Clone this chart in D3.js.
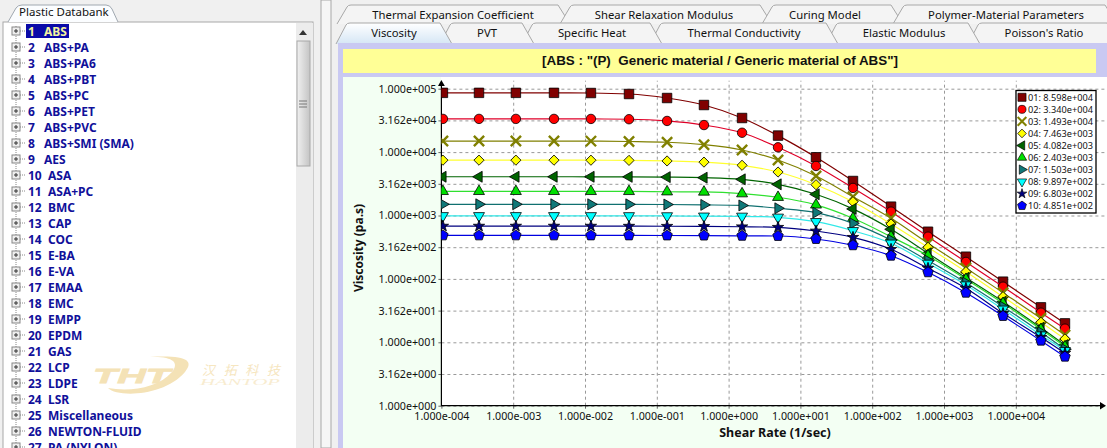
<!DOCTYPE html>
<html>
<head>
<meta charset="utf-8">
<script src="https://d3js.org/d3.v7.min.js"></script>
<style>
  html, body { margin: 0; padding: 0; background: #f0f0f0; overflow: hidden; }
  svg { display: block; }
  text { font-family: "Noto Sans", sans-serif; }
  .tab { font-size: 11.3px; fill: #111; text-anchor: middle; }
  .tree { font-size: 12px; font-weight: bold; fill: #10109a; }
  .tick text { font-family: "Noto Sans", sans-serif; font-size: 10.7px; fill: #111; }
  .grid line { stroke: #999; stroke-dasharray: 3 3; }
  .grid path { display: none; }
  .legend-text { font-size: 9.5px; fill: #111; }
</style>
</head>
<body>
<script>
// material list on the left
var materials = ["ABS", "ABS+PA", "ABS+PA6", "ABS+PBT", "ABS+PC", "ABS+PET", "ABS+PVC", "ABS+SMI (SMA)", "AES",
    "ASA", "ASA+PC", "BMC", "CAP", "COC", "E-BA", "E-VA", "EMAA", "EMC", "EMPP", "EPDM", "GAS", "LCP", "LDPE",
    "LSR", "Miscellaneous", "NEWTON-FLUID", "PA (NYLON)"];

var topTabs = ["Thermal Expansion Coefficient", "Shear Relaxation Modulus", "Curing Model", "Polymer-Material Parameters"];
var bottomTabs = ["Viscosity", "PVT", "Specific Heat", "Thermal Conductivity", "Elastic Modulus", "Poisson's Ratio"];

var chartTitle = '[ABS : "(P)  Generic material / Generic material of ABS"]';

// shear rate (1/sec) shared by all curves
var shearRate = [1.05e-4, 3.34e-4, 1.09e-3, 3.70e-3, 1.21e-2, 4.10e-2, 0.139, 0.454, 1.54, 4.88, 16.5, 54, 183, 599, 2020, 6640, 22400, 48400];

// viscosity (pa.s), one array per curve
var s01 = [85980, 85980, 85980, 85980, 85500, 82500, 71300, 55300, 34500, 18200, 8280, 3500, 1380, 555, 224, 90.4, 35.6, 19.9];
var s02 = [33400, 33400, 33400, 33400, 33350, 33000, 31000, 26700, 20200, 11900, 6040, 2720, 1150, 463, 185, 75.3, 29.3, 16.4];
var s03 = [14930, 14930, 14930, 14930, 14900, 14700, 14300, 13100, 10800, 7500, 4200, 1980, 904, 365, 149, 60.5, 23.9, 13.0];
var s04 = [7463, 7463, 7463, 7463, 7450, 7400, 7250, 6950, 6190, 4850, 3060, 1650, 735, 315, 130, 52.4, 20.7, 11.3];
var s05 = [4082, 4082, 4082, 4082, 4080, 4070, 4030, 3950, 3720, 3100, 2160, 1270, 606, 254, 104, 43.7, 17.0, 9.06];
var s06 = [2403, 2403, 2403, 2403, 2402, 2400, 2370, 2350, 2210, 1940, 1470, 904, 463, 232, 98.6, 41.2, 16.0, 8.53];
var s07 = [1503, 1503, 1503, 1503, 1502, 1500, 1490, 1470, 1440, 1300, 1110, 753, 411, 194, 87.1, 36.5, 14.4, 7.76];
var s08 = [989.7, 989.7, 989.7, 989.7, 989, 988, 985, 975, 971, 937, 798, 575, 365, 176, 80.1, 33.2, 13.0, 7.37];
var s09 = [680.3, 680.3, 680.3, 680.3, 680, 679, 677, 672, 665, 652, 570, 453, 293, 147, 71.1, 28.6, 12.0, 6.71];
var s10 = [485.1, 485.1, 485.1, 485.1, 485, 485, 484, 482, 478, 475, 426, 339, 232, 127, 60.5, 26.0, 10.6, 5.93];
var curves = [s01, s02, s03, s04, s05, s06, s07, s08, s09, s10];

var legendLabels = ["01: 8.598e+004", "02: 3.340e+004", "03: 1.493e+004", "04: 7.463e+003", "05: 4.082e+003",
    "06: 2.403e+003", "07: 1.503e+003", "08: 9.897e+002", "09: 6.803e+002", "10: 4.851e+002"];

var lineColors = ["#800000", "#e00028", "#808000", "#ffff30", "#006400", "#30e030", "#107070", "#30e8e8", "#000080", "#0000e0"];
var markColors = ["#800000", "#ff0000", "#808000", "#ffff00", "#006400", "#00e000", "#107878", "#00ffff", "#000080", "#0000ff"];

var xTicks = [1e-4, 1e-3, 1e-2, 1e-1, 1, 10, 100, 1e3, 1e4];
var yTicks = [1e5, 3.162e4, 1e4, 3.162e3, 1e3, 3.162e2, 1e2, 3.162e1, 10, 3.162, 1];

var svg = d3.select("body").append("svg").attr("width", 1107).attr("height", 448);
var defs = svg.append("defs");

var tabGrad = defs.append("linearGradient").attr("id", "activeTab").attr("x1", 0).attr("x2", 0).attr("y1", 0).attr("y2", 1);
tabGrad.append("stop").attr("offset", 0).attr("stop-color", "#ffffff");
tabGrad.append("stop").attr("offset", 1).attr("stop-color", "#d5e6f5");

var sideGrad = defs.append("linearGradient").attr("id", "thumb");
sideGrad.append("stop").attr("offset", 0).attr("stop-color", "#f0f0f0");
sideGrad.append("stop").attr("offset", 1).attr("stop-color", "#c4c4c4");

// ---- left panel ----
var left = svg.append("g");
left.append("rect").attr("x", 3).attr("y", 22).attr("width", 310).attr("height", 430)
    .attr("fill", "#fff").attr("stroke", "#a8a8a8");
left.append("path").attr("d", "M8,22 L16,8 Q18,5 22,5 L106,5 Q110,5 112,9 L118,22")
    .attr("fill", "#fbfdff").attr("stroke", "#a0a8b0");
left.append("text").attr("x", 19).attr("y", 16).attr("font-size", 11.5).attr("fill", "#111").text("Plastic Databank");

// scrollbar
left.append("rect").attr("x", 296).attr("y", 23).attr("width", 17).attr("height", 425).attr("fill", "#ececec");
left.append("path").attr("d", "M299,35 L303,30 L307,35 Z").attr("fill", "#333");
left.append("rect").attr("x", 297).attr("y", 41).attr("width", 13).attr("height", 125)
    .attr("fill", "url(#thumb)").attr("stroke", "#a8a8a8");
[-3, 0, 3].forEach(function(d) {
    left.append("line").attr("x1", 299).attr("x2", 307).attr("y1", 104 + d).attr("y2", 104 + d).attr("stroke", "#777");
});
left.append("rect").attr("x", 321).attr("y", 0).attr("width", 10).attr("height", 448).attr("fill", "#f6f6f6").attr("stroke", "#a8a8a8");

left.append("line").attr("x1", 16).attr("x2", 16).attr("y1", 26).attr("y2", 448)
    .attr("stroke", "#888").attr("stroke-dasharray", "1 1");

var rows = left.selectAll("g.row").data(materials).enter().append("g").attr("class", "row")
    .attr("transform", function(d, i) { return "translate(0," + (31 + i * 16) + ")"; });
rows.append("line").attr("x1", 20).attr("x2", 26).attr("y1", 0).attr("y2", 0)
    .attr("stroke", "#888").attr("stroke-dasharray", "1 1");
rows.append("rect").attr("x", 12).attr("y", -4).attr("width", 8).attr("height", 8)
    .attr("fill", "#eee").attr("stroke", "#888");
rows.append("path").attr("d", "M14,0 H18 M16,-2 V2").attr("stroke", "#333");
rows.filter(function(d, i) { return i == 0; }).append("rect")
    .attr("x", 26).attr("y", -7).attr("width", 43).attr("height", 14).attr("fill", "#0a0aa8");
rows.append("text").attr("class", "tree").attr("x", 28).attr("y", 4.5)
    .style("fill", function(d, i) { return i == 0 ? "#f4f4a0" : null; })
    .text(function(d, i) { return i + 1; });
rows.append("text").attr("class", "tree").attr("y", 4.5)
    .attr("x", function(d, i) { return i < 9 ? 44 : 48; })
    .style("fill", function(d, i) { return i == 0 ? "#f4f4a0" : null; })
    .text(function(d) { return d; });

// watermark
var logo = svg.append("g");
logo.append("path").attr("d", "M108,388 C118,398 165,396 185,372 C195,360 185,355 150,357 C172,356 180,362 172,372 C158,388 130,392 108,388 Z")
    .attr("fill", "#f4e2b6");
logo.append("text").attr("x", 93).attr("y", 383).attr("font-size", 21)
    .style("font-family", "Liberation Sans").attr("font-weight", "bold").attr("font-style", "italic")
    .attr("fill", "#f4e2b6").attr("stroke", "#f4e2b6").attr("stroke-width", 0.8)
    .attr("textLength", 77).attr("lengthAdjust", "spacingAndGlyphs").text("THT");
logo.append("text").attr("x", 202).attr("y", 375).attr("font-size", 13)
    .style("font-family", "Noto Sans CJK SC").attr("font-style", "italic").attr("fill", "#f6e6c0")
    .attr("textLength", 78).text("汉拓科技");
logo.append("text").attr("x", 200).attr("y", 385).attr("font-size", 9)
    .style("font-family", "Liberation Serif").attr("font-style", "italic").attr("fill", "#f8ecd0")
    .attr("textLength", 80).attr("lengthAdjust", "spacingAndGlyphs").text("HANTOP");

// ---- tabs ----
function tabPath(x0, x1, top, bottom) {
    return "M" + x0 + "," + bottom + " L" + (x0 + 10) + "," + (top + 2) + " Q" + (x0 + 11) + "," + top + " " + (x0 + 14) + "," + top +
        " L" + (x1 - 12) + "," + top + " L" + x1 + "," + bottom;
}
var tabs = svg.append("g");
var topEdges = [337, 560, 762, 893, 1107];
var topCenters = [453, 664, 825, 1006];
var bottomEdges = [336, 440, 522, 650, 826, 968, 1107];
var bottomCenters = [394, 487, 592, 744, 904, 1044];

topTabs.forEach(function(t, i) {
    tabs.append("path").attr("d", tabPath(topEdges[i], topEdges[i + 1] + 10, 5, 24))
        .attr("fill", "#f4f4f4").attr("stroke", "#a8a8a8");
    tabs.append("text").attr("class", "tab").attr("x", topCenters[i]).attr("y", 19).text(t);
});
// second row, the selected tab goes on last
d3.range(bottomTabs.length - 1, -1, -1).forEach(function(i) {
    tabs.append("path").attr("d", tabPath(bottomEdges[i], bottomEdges[i + 1] + 12, 23, 44))
        .attr("fill", i == 0 ? "url(#activeTab)" : "#f4f4f4").attr("stroke", "#a8a8a8");
    tabs.append("text").attr("class", "tab").attr("x", bottomCenters[i]).attr("y", 37).text(bottomTabs[i]);
});

// ---- chart panel ----
svg.append("rect").attr("x", 338).attr("y", 43).attr("width", 769).attr("height", 405).attr("fill", "#c9c9f2");
svg.append("rect").attr("x", 343).attr("y", 49).attr("width", 753).attr("height", 24).attr("fill", "#ffff96");
svg.append("text").attr("x", 720).attr("y", 65).attr("text-anchor", "middle").attr("xml:space", "preserve")
    .style("white-space", "pre").attr("font-size", 13.5).attr("font-weight", "bold").style("font-family", "Liberation Sans")
    .attr("fill", "#111").attr("textLength", 356).attr("lengthAdjust", "spacingAndGlyphs").text(chartTitle);
svg.append("rect").attr("x", 343).attr("y", 77).attr("width", 764).attr("height", 371).attr("fill", "#f3fff3");
svg.append("rect").attr("x", 441).attr("y", 77).attr("width", 666).attr("height", 329).attr("fill", "#fff");

var x = d3.scaleLog().domain([1e-4, 1e4]).range([441.4, 1015.8]);
var y = d3.scaleLog().domain([1, 1e5]).range([405.7, 88.7]);

// 1.000e+005 style labels
function sci(v) {
    var p = v.toExponential(3).split("e");
    var e = Math.abs(+p[1]);
    return p[0] + "e" + (+p[1] < 0 ? "-" : "+") + d3.format("03d")(e);
}

// grid
svg.append("g").attr("class", "grid").attr("transform", "translate(441.4,0)")
    .call(d3.axisRight(y).tickValues(yTicks).tickSize(665).tickFormat(""));
svg.append("g").attr("class", "grid").attr("transform", "translate(0,405.7)")
    .call(d3.axisTop(x).tickValues(xTicks.slice(1)).tickSize(325).tickFormat(""));

var xAxis = svg.append("g").attr("class", "axis").attr("transform", "translate(0,405.7)")
    .call(d3.axisBottom(x).tickValues(xTicks).tickSize(3).tickPadding(2).tickFormat(sci));
var yAxis = svg.append("g").attr("class", "axis").attr("transform", "translate(441.4,0)")
    .call(d3.axisLeft(y).tickValues(yTicks).tickSize(3).tickPadding(2).tickFormat(sci));
xAxis.select("path.domain").remove();
yAxis.select("path.domain").remove();
xAxis.selectAll(".tick line").attr("stroke", "#666");
yAxis.selectAll(".tick line").attr("stroke", "#666");
// labels sit a little lower than d3's default under the axis
xAxis.selectAll(".tick text").attr("dy", "0.85em");

svg.append("path").attr("d", "M441.4,84 V405.7 H1102").attr("fill", "none").attr("stroke", "#000").attr("stroke-width", 1.2);
svg.append("path").attr("d", "M441.4,80 L438,86 L444.8,86 Z").attr("fill", "#000");
svg.append("path").attr("d", "M1106,405.7 L1100,402 L1100,409.4 Z").attr("fill", "#000");

svg.append("text").attr("transform", "translate(363,248) rotate(-90)").attr("text-anchor", "middle")
    .attr("font-size", 12).attr("font-weight", "bold").attr("fill", "#111").text("Viscosity (pa.s)");
svg.append("text").attr("x", 775).attr("y", 436.5).attr("text-anchor", "middle")
    .attr("font-size", 12.5).attr("font-weight", "bold").attr("fill", "#111").text("Shear Rate (1/sec)");

// ---- markers ----
var pentagon = {
    draw: function(ctx, size) {
        var r = Math.sqrt(size / 2.378);
        d3.range(5).forEach(function(k) {
            var a = -Math.PI / 2 + k * 2 * Math.PI / 5;
            if (k == 0) ctx.moveTo(r * Math.cos(a), r * Math.sin(a));
            else ctx.lineTo(r * Math.cos(a), r * Math.sin(a));
        });
        ctx.closePath();
    }
};
var markers = [
    { type: d3.symbolSquare, size: 90, rot: 0 },
    { type: d3.symbolCircle, size: 70, rot: 0 },
    { type: d3.symbolTimes, size: 70, rot: 0, open: true },
    { type: d3.symbolSquare, size: 52, rot: 45 },
    { type: d3.symbolTriangle, size: 52, rot: -90 },
    { type: d3.symbolTriangle, size: 52, rot: 0 },
    { type: d3.symbolTriangle, size: 52, rot: 90 },
    { type: d3.symbolTriangle, size: 52, rot: 180 },
    { type: d3.symbolStar, size: 40, rot: 0 },
    { type: pentagon, size: 72, rot: 0 }
];
function drawMarker(sel, k) {
    var m = markers[k];
    sel.append("path")
        .attr("d", d3.symbol().type(m.type).size(m.size)())
        .attr("fill", m.open ? "none" : markColors[k])
        .attr("stroke", m.open ? markColors[k] : "#000")
        .attr("stroke-width", m.open ? 2.4 : 0.8);
}

// ---- curves ----
defs.append("clipPath").attr("id", "plotClip").append("rect")
    .attr("x", 441.4).attr("y", 77).attr("width", 666).attr("height", 329);

var plot = svg.append("g").attr("clip-path", "url(#plotClip)");
var line = d3.line()
    .x(function(d, i) { return x(shearRate[i]); })
    .y(function(d) { return y(d); })
    .curve(d3.curveMonotoneX);

curves.forEach(function(vals, k) {
    plot.append("path").attr("d", line(vals)).attr("fill", "none")
        .attr("stroke", lineColors[k]).attr("stroke-width", 1.2);
    plot.selectAll("g.m" + k).data(vals).enter().append("g").attr("class", "m" + k)
        .attr("transform", function(d, i) { return "translate(" + x(shearRate[i]) + "," + y(d) + ")rotate(" + markers[k].rot + ")"; })
        .each(function() { drawMarker(d3.select(this), k); });
});

// ---- legend ----
var legend = svg.append("g");
legend.append("rect").attr("x", 1016).attr("y", 90.5).attr("width", 80).attr("height", 122.5)
    .attr("fill", "#fff").attr("stroke", "#000").attr("stroke-width", 1.3);
var legendRows = legend.selectAll("g.item").data(legendLabels).enter().append("g").attr("class", "item")
    .attr("transform", function(d, i) { return "translate(1022," + (97.3 + i * 12.05) + ")"; });
legendRows.append("g")
    .attr("transform", function(d, i) { return "rotate(" + markers[i].rot + ")scale(0.85)"; })
    .each(function(d, i) { drawMarker(d3.select(this), i); });
legendRows.append("text").attr("class", "legend-text").attr("x", 6).attr("y", 3.5)
    .attr("textLength", 65).attr("lengthAdjust", "spacingAndGlyphs").text(function(d) { return d; });
</script>
</body>
</html>
